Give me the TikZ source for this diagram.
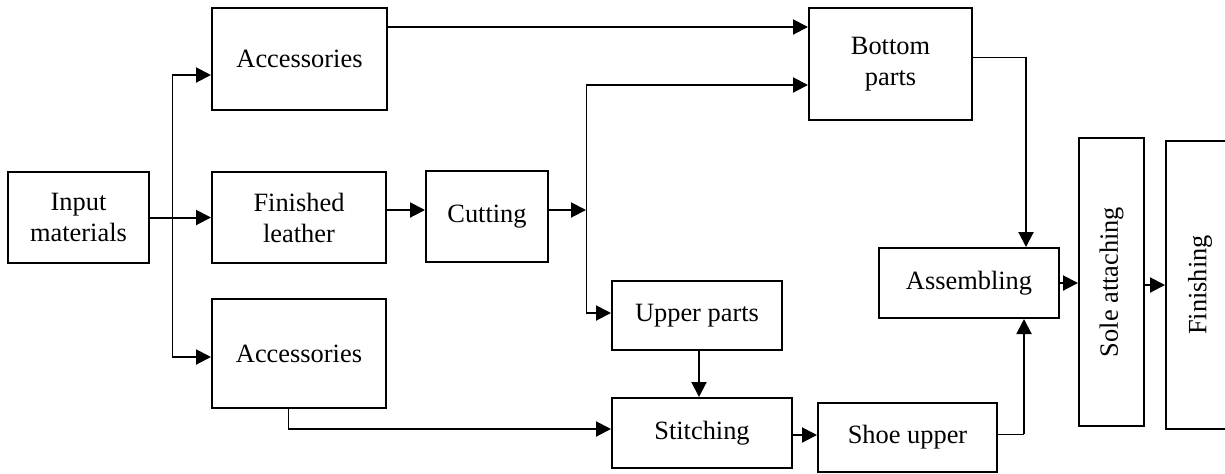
\documentclass[tikz,border=0pt]{standalone}
\usepackage{fontspec}
\setmainfont{Liberation Serif}
\usetikzlibrary{arrows.meta}
\begin{document}
\begin{tikzpicture}[x=0.5pt,y=-0.5pt,
  box/.style={draw, line width=1pt, inner sep=0pt, align=center,
    font=\fontsize{13.2}{15.5}\selectfont},
  arr/.style={line width=1pt, -{Triangle[length=7.5pt,width=7.5pt]}},
  thinline/.style={line width=0.5pt}]
\useasboundingbox (0,0) rectangle (1225,473);
% boxes
\node[box, minimum width=70.5pt, minimum height=45.5pt] (inp) at (78.5,217.5) {Input\\materials};
\node[box, minimum width=87.5pt, minimum height=51pt] (acc1) at (299.5,59) {Accessories};
\node[box, minimum width=87pt, minimum height=45.5pt] (leather) at (299,217.5) {Finished\\leather};
\node[box, minimum width=87pt, minimum height=54.5pt] (acc2) at (299,353.5) {Accessories};
\node[box, minimum width=61pt, minimum height=45.5pt] (cut) at (487,216.5) {Cutting};
\node[box, minimum width=81.5pt, minimum height=56pt] (bottom) at (890.5,64) {Bottom\\parts};
\node[box, minimum width=85pt, minimum height=34.5pt] (upper) at (697,315.5) {Upper parts};
\node[box, minimum width=90pt, minimum height=35pt] (stitch) at (702,433) {Stitching};
\node[box, minimum width=89.5pt, minimum height=34.5pt] (shoe) at (907.5,437.5) {Shoe upper};
\node[box, minimum width=90pt, minimum height=35pt] (assem) at (969,283) {Assembling};
\node[box, minimum width=32.5pt, minimum height=144pt] (sole) at (1111.5,282) {\rotatebox{90}{Sole attaching}};
\node[box, minimum width=34pt, minimum height=144pt] (fin) at (1200,285) {\rotatebox{90}{Finishing}};
% helper coordinates
\coordinate (b1) at (172,75);
\coordinate (b2) at (172,357);
\coordinate (r1) at (0,27);
\coordinate (r2) at (0,210);
\coordinate (j2) at (586,210);
\coordinate (j3) at (586,85);
\coordinate (j4) at (586,313);
\coordinate (c1) at (699,0);
\coordinate (k1) at (288,429);
\coordinate (k2) at (1024,434);
\coordinate (k3) at (1026,57);
\coordinate (r3) at (0,283);
\coordinate (r4) at (0,285);
\coordinate (r5) at (0,435);
% connectors
\draw[arr] (inp.east) -- (leather.west);
\draw[thinline] (b1) -- (b2);
\draw[arr] (b1) -- (b1 -| acc1.west);
\draw[arr] (b2) -- (b2 -| acc2.west);
\draw[arr] (acc1.east |- r1) -- (bottom.west |- r1);
\draw[arr] (leather.east |- r2) -- (cut.west |- r2);
\draw[arr] (cut.east |- r2) -- (j2);
\draw[thinline] (j3) -- (j4);
\draw[arr] (j3) -- (j3 -| bottom.west);
\draw[arr] (j4) -- (j4 -| upper.west);
\draw[arr] (upper.south -| c1) -- (stitch.north -| c1);
\draw[thinline] (acc2.south -| k1) -- (k1);
\draw[arr] (k1) -- (k1 -| stitch.west);
\draw[arr] (stitch.east |- r5) -- (shoe.west |- r5);
\draw[thinline] (shoe.east |- k2) -- (k2);
\draw[arr] (k2) -- (assem.south -| k2);
\draw[thinline] (bottom.east |- k3) -- (k3);
\draw[arr] (k3) -- (assem.north -| k3);
\draw[arr] (assem.east |- r3) -- (sole.west |- r3);
\draw[arr] (sole.east |- r4) -- (fin.west |- r4);
\end{tikzpicture}
\end{document}
